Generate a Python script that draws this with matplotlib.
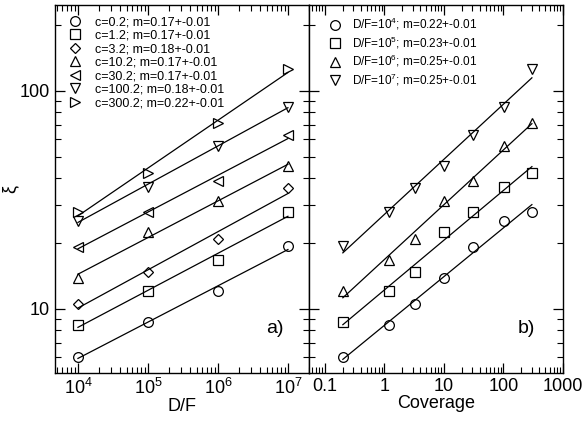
import matplotlib
matplotlib.use("Agg")
import matplotlib.pyplot as plt
import numpy as np

plt.rcParams['font.family'] = ['Liberation Sans', 'DejaVu Sans']
plt.rcParams['mathtext.default'] = 'regular'

# D/F values (left panel x) and coverage values (right panel x)
df_values = [1e4, 1e5, 1e6, 1e7]
coverage = [0.2, 1.2, 3.2, 10.2, 30.2, 100.2, 300.2]

# xi, one list per coverage, at D/F = 1e4, 1e5, 1e6, 1e7
xi_c02 = [6.03, 8.7, 12.1, 19.4]
xi_c12 = [8.45, 12.1, 16.8, 27.9]
xi_c32 = [10.5, 14.8, 20.9, 35.9]
xi_c102 = [13.9, 22.5, 31.2, 45.3]
xi_c302 = [19.2, 27.9, 38.7, 62.8]
xi_c1002 = [25.4, 36.3, 56.0, 84.5]
xi_c3002 = [27.9, 42.1, 71.3, 126.0]

left_labels = ['c=0.2; m=0.17+-0.01', 'c=1.2; m=0.17+-0.01', 'c=3.2; m=0.18+-0.01',
               'c=10.2; m=0.17+-0.01', 'c=30.2; m=0.17+-0.01', 'c=100.2; m=0.18+-0.01',
               'c=300.2; m=0.22+-0.01']
right_labels = ['D/F=10$^4$; m=0.22+-0.01', 'D/F=10$^5$; m=0.23+-0.01',
                'D/F=10$^6$; m=0.25+-0.01', 'D/F=10$^7$; m=0.25+-0.01']

left_markers = ['o', 's', 'D', '^', '<', 'v', '>']
right_markers = ['o', 's', '^', 'v']

series = [xi_c02, xi_c12, xi_c32, xi_c102, xi_c302, xi_c1002, xi_c3002]
table = np.array(series)  # rows: coverage, cols: D/F

fig = plt.figure(figsize=(5.87, 4.26), dpi=100)
ax1 = fig.add_axes([55 / 587, 53 / 426, 254 / 587, 368 / 426])
ax2 = fig.add_axes([309 / 587, 53 / 426, 254 / 587, 368 / 426])


def fit_line(ax, x, y):
    p = np.polyfit(np.log10(x), np.log10(y), 1)
    xs = np.array([min(x), max(x)])
    ax.plot(xs, 10 ** np.polyval(p, np.log10(xs)), color='black', lw=0.9)


mk = dict(ls='none', mfc='white', mec='black', mew=0.9)

for ys, m, lab in zip(series, left_markers, left_labels):
    ms = 5.5 if m == 'D' else 7
    ax1.plot(df_values, ys, marker=m, ms=ms, label=lab, **mk)
    fit_line(ax1, df_values, ys)

for j, (m, lab) in enumerate(zip(right_markers, right_labels)):
    ys = table[:, j]
    ax2.plot(coverage, ys, marker=m, ms=7, label=lab, **mk)
    fit_line(ax2, coverage, ys)

for ax in (ax1, ax2):
    ax.set_xscale('log')
    ax.set_yscale('log')
    ax.set_ylim(5.08, 248)
    ax.tick_params(which='both', direction='in', top=True, right=True, labelsize=13)
    ax.tick_params(which='major', length=7, width=0.9)
    ax.tick_params(which='minor', length=4, width=0.8)
    for s in ax.spines.values():
        s.set_linewidth(1.0)

ax1.set_xlim(4700, 2e7)
ax2.set_xlim(0.054, 1000)
ax2.set_xticks([0.1, 1, 10, 100, 1000])
ax2.set_xticklabels(['0.1', '1', '10', '100', '1000'])
ax2.tick_params(labelleft=False)
ax1.set_yticks([10, 100])
ax1.set_yticklabels(['10', '100'])

ax1.set_xlabel('D/F', fontsize=13, labelpad=0)
ax2.set_xlabel('Coverage', fontsize=13, labelpad=0)
ax1.set_ylabel('ξ', fontsize=13)
ax1.yaxis.set_label_coords(-0.142, 0.5)

ax1.text(0.83, 0.11, 'a)', transform=ax1.transAxes, fontsize=14)
ax2.text(0.82, 0.11, 'b)', transform=ax2.transAxes, fontsize=14)

ax1.legend(loc='upper left', frameon=False, fontsize=9, handlelength=1.0,
           handletextpad=1.05, labelspacing=0.12, borderaxespad=0, borderpad=0,
           bbox_to_anchor=(0.055, 0.97))
ax2.legend(loc='upper left', frameon=False, fontsize=8.5, handlelength=1.0,
           handletextpad=0.95, labelspacing=0.2, borderaxespad=0, borderpad=0,
           bbox_to_anchor=(0.079, 0.97))

fig.savefig('out.png', dpi=100)
